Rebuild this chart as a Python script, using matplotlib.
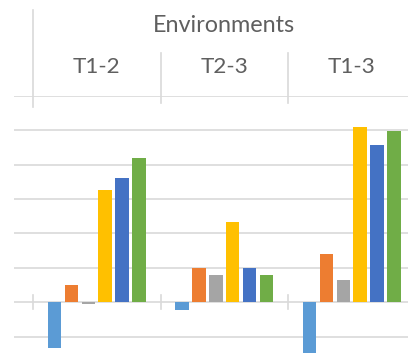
import matplotlib
matplotlib.use("Agg")
import matplotlib.pyplot as plt
from matplotlib.transforms import blended_transform_factory
import numpy as np

# Data
environments = ["T1-2", "T2-3", "T1-3"]
series_colors = ["#5B9BD5", "#ED7D31", "#A5A5A5", "#FFC000", "#4472C4", "#70AD47"]
s1 = [-1.33, -0.22, -1.70]
s2 = [0.49, 1.00, 1.39]
s3 = [-0.05, 0.79, 0.64]
s4 = [3.27, 2.33, 5.11]
s5 = [3.61, 1.00, 4.57]
s6 = [4.19, 0.78, 4.97]
series = [s1, s2, s3, s4, s5, s6]
header_title = "Environments"

W, H = 408, 353
fig = plt.figure(figsize=(W / 100, H / 100), dpi=100)
fig.patch.set_facecolor("white")

# Plot area: from x=14px to right edge, from y=96px down past the bottom edge
ax = fig.add_axes([14 / W, 0, 1 - 14 / W, 1 - 96 / H])
ax.set_xlim(-0.649, 2.441)
ax.set_ylim(-1.48, 6.0)

grid_color = "#D9D9D9"
text_color = "#5F5F5F"

for v in range(-1, 7):
    ax.axhline(v, color=grid_color, lw=1.2, zorder=0)

x = np.arange(len(environments))
slot = 0.133
width = 0.106
for i, (vals, col) in enumerate(zip(series, series_colors)):
    ax.bar(x + (i - 2.5) * slot, vals, width=width, color=col, zorder=2)

# Category boundary ticks on the zero line
for b in [-0.5, 0.5, 1.5]:
    ax.plot([b, b], [-0.2, 0.2], color=grid_color, lw=1.2, zorder=1)

for sp in ax.spines.values():
    sp.set_visible(False)
ax.set_xticks([])
ax.set_yticks([])

# Header with category labels above the plot area
tr = blended_transform_factory(ax.transData, fig.transFigure)
ax.plot([-0.5, -0.5], [1 - 107 / H, 1 - 10 / H], transform=tr, color=grid_color,
        lw=1.2, clip_on=False)
for b in [0.5, 1.5]:
    ax.plot([b, b], [1 - 103 / H, 1 - 53 / H], transform=tr, color=grid_color,
            lw=1.2, clip_on=False)

ax.text(1.0, 1 - 25 / H, header_title, transform=tr, ha="center", va="center",
        fontsize=16.8, color=text_color, family="Lato")
for xi, lab in zip(x, environments):
    ax.text(xi, 1 - 67 / H, lab, transform=tr, ha="center", va="center",
            fontsize=16.2, color=text_color, family="Lato")

fig.savefig("out.png", dpi=100, facecolor="white")
